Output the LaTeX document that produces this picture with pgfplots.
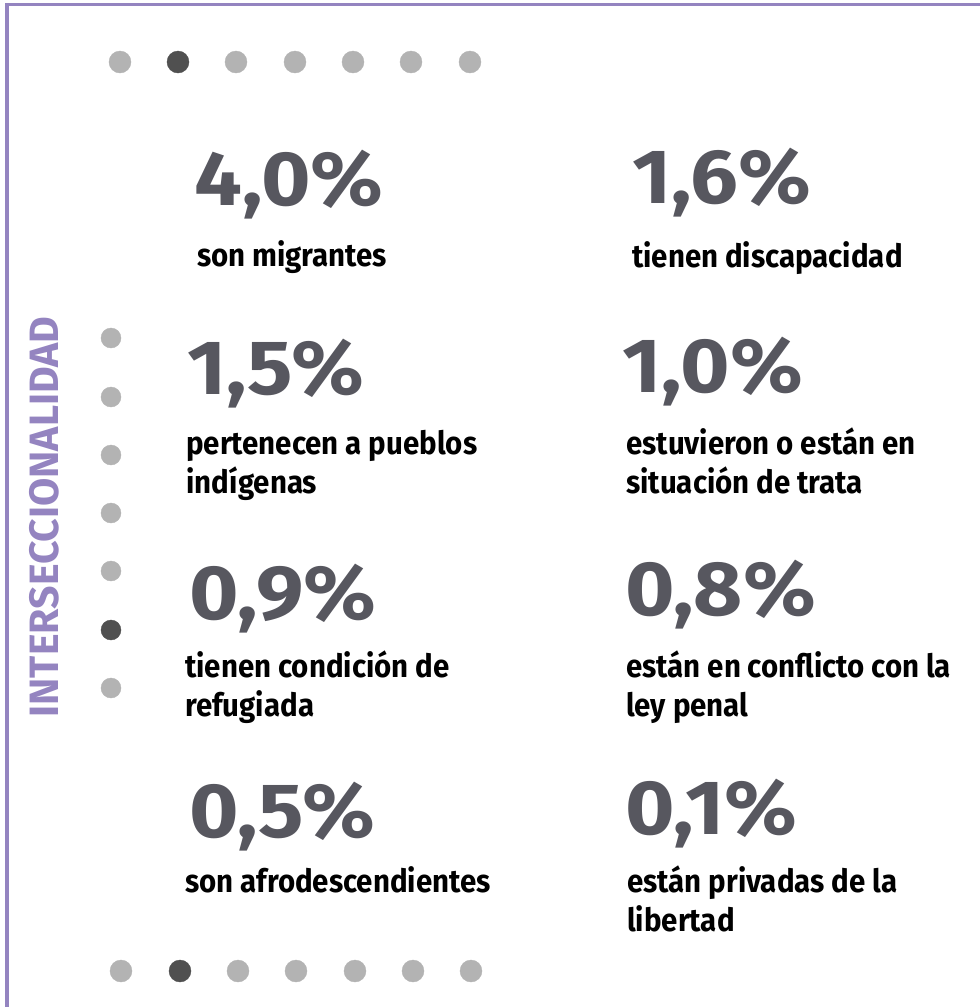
\documentclass[border=0pt]{standalone}
\usepackage{fontspec}
\setmainfont{Fira Sans}
\newfontfamily\labfont{Fira Sans}[FakeStretch=0.92]
\newfontfamily\numfont{Fira Sans}[FakeStretch=1.1]
\usepackage{pgfplots}
\pgfplotsset{compat=1.18}
\definecolor{frame}{HTML}{9484C0}
\definecolor{dotlight}{HTML}{B3B3B3}
\definecolor{dotdark}{HTML}{505050}
\definecolor{numgray}{HTML}{57575F}

% x, y (baseline, px from top), value in %
\pgfplotstableread{
x   y   v
194 205 4.0
632 203 1.6
187 394 1.5
622 392 1.0
189 619 0.9
625 615 0.8
189 837 0.5
625 834 0.1
}\shares

\newcommand{\lab}[3]{\node[anchor=base west, inner sep=0pt, font=\labfont\bfseries\fontsize{32bp}{36bp}\selectfont] at (#1,#2) {#3};}

\begin{document}
\begin{tikzpicture}
\useasboundingbox (0,0) rectangle (980bp,1007bp);
\begin{axis}[
  at={(0,0)}, anchor=south west,
  scale only axis,
  width=980bp, height=1007bp,
  xmin=0, xmax=980, ymin=0, ymax=1007,
  y dir=reverse,
  axis lines=none, ticks=none,
  clip=false,
  /pgf/number format/assume math mode=true,
]
% frame (top and left)
\addplot[frame, line width=3bp] coordinates {(980,4) (7,4) (7,1007)};

% top and bottom rows of dots
\addplot[only marks, mark=*, mark size=11bp, color=dotlight] coordinates {
  (120,62) (236,62) (295,62) (353,62) (411,62) (470,62)
  (121,971) (238,971) (296,971) (355,971) (413,971) (471,971)};
\addplot[only marks, mark=*, mark size=11bp, color=dotdark] coordinates {(178,62) (180,971)};

% left column of dots
\addplot[only marks, mark=*, mark size=10bp, color=dotlight] coordinates {
  (111,338) (111,397) (111,455) (111,513) (111,571) (111,688)};
\addplot[only marks, mark=*, mark size=10bp, color=dotdark] coordinates {(111,630)};

% big numbers
\addplot[only marks, mark=none, point meta=explicit,
  nodes near coords={\pgfmathprintnumber[fixed,fixed zerofill,precision=1,use comma]{\pgfplotspointmeta}\%},
  every node near coord/.style={anchor=base west, inner sep=0pt, text=numgray,
    font=\numfont\bfseries\fontsize{77bp}{80bp}\selectfont}]
  table[x=x, y=y, meta=v] {\shares};

% labels
\lab{197}{266}{son migrantes}
\lab{632}{267}{tienen discapacidad}
\lab{186}{454}{pertenecen a pueblos}
\lab{186}{493}{indígenas}
\lab{626}{454}{estuvieron o están en}
\lab{626}{493}{situación de trata}
\lab{185}{677}{tienen condición de}
\lab{185}{716}{refugiada}
\lab{626}{677}{están en conflicto con la}
\lab{626}{716}{ley penal}
\lab{185}{892}{son afrodescendientes}
\lab{627}{892}{están privadas de la}
\lab{627}{931}{libertad}

\node[rotate=90, inner sep=0pt, text=frame, font=\bfseries\fontsize{41bp}{44bp}\selectfont] at (44,517) {INTERSECCIONALIDAD};
\end{axis}
\end{tikzpicture}
\end{document}
